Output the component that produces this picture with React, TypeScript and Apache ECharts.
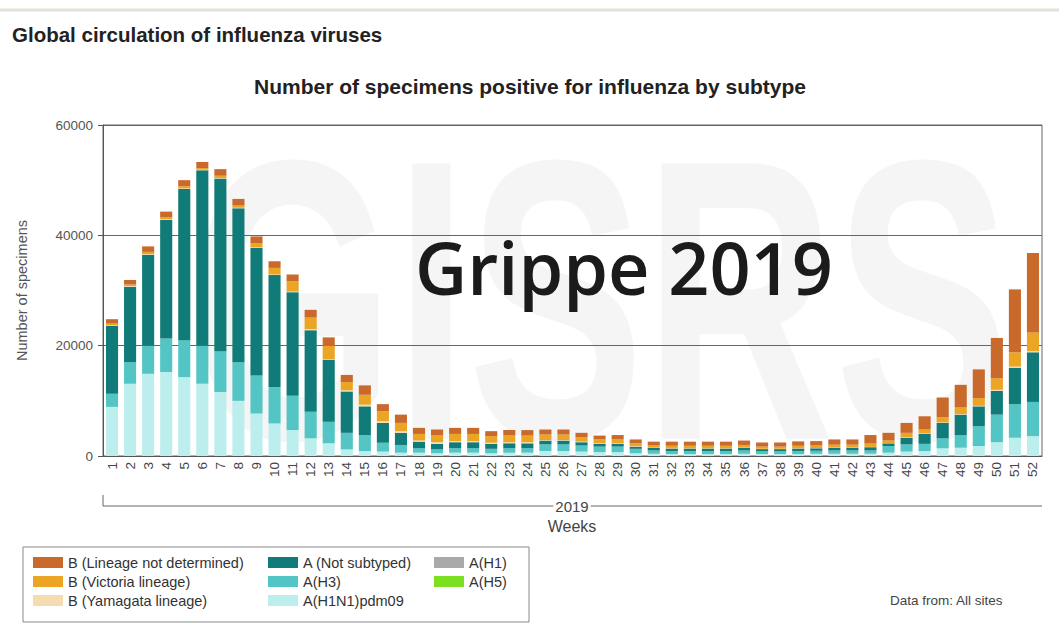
import React, { useEffect, useRef } from "react";
import * as echarts from "echarts";

const weeks = ["1","2","3","4","5","6","7","8","9","10","11","12","13","14","15","16","17","18","19","20","21","22","23","24","25","26","27","28","29","30","31","32","33","34","35","36","37","38","39","40","41","42","43","44","45","46","47","48","49","50","51","52"];

const yTicks = [0, 20000, 40000, 60000];

const pdm09 = [8900,13100,14900,15200,14300,13100,11600,10000,7700,5900,4700,3200,2300,1200,900,800,600,600,500,600,600,500,600,600,900,900,800,700,700,500,400,350,350,350,350,400,350,350,350,400,400,400,400,600,800,900,1400,1500,1800,2500,3300,3600];
const h3 = [2400,3900,5100,6100,6700,6900,7400,7000,6900,6600,6200,4800,3900,3000,2900,1600,1400,800,700,800,800,800,800,800,1200,1200,1100,1000,1000,800,600,550,550,550,550,600,500,500,550,550,600,600,600,1200,1300,1300,1800,2300,3600,5000,6100,6200];
const notSubtyped = [12300,13700,16500,21500,27400,31800,31300,27900,23100,20300,18800,14800,11200,7500,5200,3600,2200,1200,1000,1100,1100,900,900,900,700,700,600,500,500,400,450,450,450,450,450,500,400,400,450,450,500,500,600,500,1200,1800,2800,3700,3600,4300,6600,9000];
const h1 = [0,0,0,0,0,0,0,0,0,0,0,0,0,0,0,0,0,0,0,0,0,0,0,0,0,0,0,0,0,0,0,0,0,0,0,0,0,0,0,0,0,0,0,0,0,0,0,0,0,0,0,0];
const h5 = [0,0,0,0,0,0,0,0,0,0,0,0,0,0,0,0,0,0,0,0,0,0,0,0,0,0,0,0,0,0,0,0,0,0,0,0,0,0,0,0,0,0,0,0,0,0,0,0,0,0,0,0];
const yamagata = [100,100,100,100,100,100,100,100,100,100,100,200,100,200,300,300,300,200,300,200,200,200,200,200,100,100,100,100,100,100,50,50,50,50,50,50,50,50,50,50,50,50,50,50,100,100,100,100,100,200,200,200];
const victoria = [300,300,400,400,400,300,400,400,800,1200,1900,2100,2500,1500,1800,1800,1500,1200,1300,1300,1300,1200,1200,1200,1000,1000,800,700,700,500,400,450,450,450,450,450,400,400,450,450,500,500,600,450,800,700,900,1200,1400,2100,2600,3400];
const bNotDetermined = [800,800,1000,1000,1100,1100,1200,1200,1200,1200,1200,1400,1500,1300,1700,1300,1500,1100,1000,1100,1100,900,1000,1000,900,900,800,700,800,700,700,750,750,750,750,800,750,750,800,800,950,950,1550,1400,1800,2400,3600,4100,5200,7300,11400,14400];

const seriesDefs = [
  { name: "A(H1N1)pdm09", data: pdm09, color: "#bdeeee" },
  { name: "A(H3)", data: h3, color: "#52c5c4" },
  { name: "A (Not subtyped)", data: notSubtyped, color: "#117b79" },
  { name: "A(H1)", data: h1, color: "#a9a9a9" },
  { name: "A(H5)", data: h5, color: "#7ddf22" },
  { name: "B (Yamagata lineage)", data: yamagata, color: "#f4dbb0" },
  { name: "B (Victoria lineage)", data: victoria, color: "#eba424" },
  { name: "B (Lineage not determined)", data: bNotDetermined, color: "#c9692b" },
];

const legendCols = [
  { left: 33, items: ["B (Lineage not determined)", "B (Victoria lineage)", "B (Yamagata lineage)"] },
  { left: 268, items: ["A (Not subtyped)", "A(H3)", "A(H1N1)pdm09"] },
  { left: 434, items: ["A(H1)", "A(H5)"] },
];

const FONT = "Liberation Sans, Arial, sans-serif";

export default function App() {
  const ref = useRef<HTMLDivElement>(null);
  useEffect(() => {
    if (!ref.current) return;
    const chart = echarts.init(ref.current, undefined, { renderer: "svg" });
    const option: any = {
      animation: false,
      backgroundColor: "#ffffff",
      textStyle: { fontFamily: FONT },
      title: [
        {
          text: "Global circulation of influenza viruses",
          left: 12,
          top: 24,
          padding: 0,
          textStyle: { fontSize: 20.5, fontWeight: "bold", color: "#222", fontFamily: FONT },
        },
        {
          text: "Number of specimens positive for influenza by subtype",
          left: 530,
          textAlign: "center",
          top: 76,
          padding: 0,
          textStyle: { fontSize: 21, fontWeight: "bold", color: "#222", fontFamily: FONT },
        },
      ],
      legend: legendCols.map((c) => ({
        orient: "vertical",
        left: c.left,
        top: 555,
        padding: 0,
        itemWidth: 30,
        itemHeight: 11,
        itemGap: 4,
        icon: "rect",
        selectedMode: false,
        data: c.items,
        textStyle: { fontSize: 14.5, lineHeight: 15, color: "#333", fontFamily: FONT },
      })),
      grid: {
        left: 103,
        right: 17,
        top: 125,
        bottom: 174,
        show: true,
        borderColor: "#666",
        borderWidth: 1,
        backgroundColor: "transparent",
      },
      xAxis: {
        type: "category",
        data: weeks,
        axisLine: { lineStyle: { color: "#555", width: 1 } },
        axisTick: { alignWithLabel: true, length: 5, lineStyle: { color: "#555" } },
        axisLabel: { rotate: 90, fontSize: 13.5, color: "#444", margin: 6, interval: 0 },
      },
      yAxis: {
        type: "value",
        min: yTicks[0],
        max: yTicks[yTicks.length - 1],
        interval: 20000,
        name: "Number of specimens",
        nameLocation: "middle",
        nameGap: 74,
        nameTextStyle: { fontSize: 14.5, color: "#555" },
        axisLine: { show: true, lineStyle: { color: "#555" } },
        axisTick: { show: true, length: 5, lineStyle: { color: "#555" } },
        axisLabel: { fontSize: 13.5, color: "#555", margin: 10, formatter: (v: number) => String(v) },
        splitLine: { show: true, lineStyle: { color: "#666", width: 1 } },
      },
      series: seriesDefs.map((s) => ({
        name: s.name,
        type: "bar",
        stack: "total",
        data: s.data,
        barCategoryGap: "33%",
        itemStyle: { color: s.color },
        z: 3,
      })),
      graphic: [
        {
          type: "line",
          shape: { x1: 0, y1: 10, x2: 1059, y2: 10 },
          style: { stroke: "#e6e1d8", lineWidth: 3 },
          z: 0,
        },
        {
          type: "text",
          x: 600,
          y: 300,
          scaleX: 0.66,
          z: 0,
          style: {
            text: "GISRS",
            font: "bold 400px Liberation Sans, Arial, sans-serif",
            fill: "#f5f5f5",
            align: "center",
            verticalAlign: "middle",
          },
        },
        {
          type: "text",
          x: 415,
          y: 267,
          z: 100,
          style: {
            text: "Grippe 2019",
            font: "600 72px Open Sans, Noto Sans, sans-serif",
            fill: "#1b1b1b",
            align: "left",
            verticalAlign: "middle",
          },
        },
        {
          type: "polyline",
          shape: { points: [[103, 495], [103, 506], [1042, 506]] },
          style: { stroke: "#666", lineWidth: 1, fill: "none" },
          z: 10,
        },
        {
          type: "text",
          x: 572,
          y: 506,
          z: 11,
          style: {
            text: "2019",
            font: "15px Liberation Sans, Arial, sans-serif",
            fill: "#444",
            align: "center",
            verticalAlign: "middle",
            backgroundColor: "#ffffff",
            padding: [0, 2, 0, 2],
          },
        },
        {
          type: "text",
          x: 572,
          y: 526,
          z: 11,
          style: {
            text: "Weeks",
            font: "16px Liberation Sans, Arial, sans-serif",
            fill: "#444",
            align: "center",
            verticalAlign: "middle",
          },
        },
        {
          type: "rect",
          shape: { x: 23, y: 547, width: 506, height: 75 },
          style: { stroke: "#888", lineWidth: 1, fill: "none" },
          z: 1,
        },
        {
          type: "text",
          x: 890,
          y: 600,
          z: 11,
          style: {
            text: "Data from: All sites",
            font: "13.5px Liberation Sans, Arial, sans-serif",
            fill: "#444",
            align: "left",
            verticalAlign: "middle",
          },
        },
      ],
    };
    chart.setOption(option);
    return () => chart.dispose();
  }, []);
  return (
    <div
      ref={ref}
      style={{ position: "absolute", left: 0, top: 0, width: 1059, height: 630 }}
    />
  );
}
